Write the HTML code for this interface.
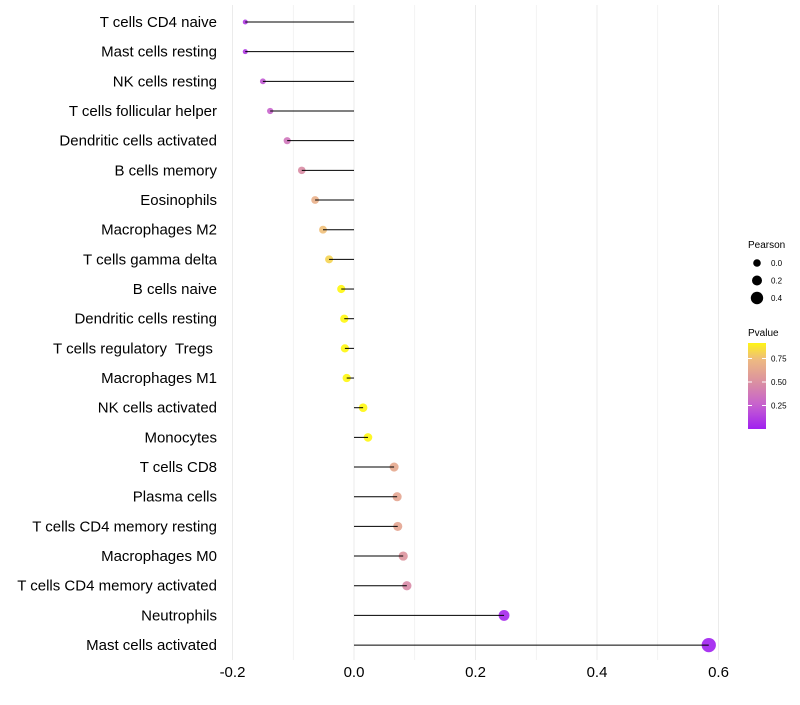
<!DOCTYPE html>
<html><head><meta charset="utf-8"><style>
body{margin:0;background:#fff;font-family:"Liberation Sans",sans-serif}
text{white-space:pre}
</style></head><body>
<svg id="c" width="800" height="700" xmlns="http://www.w3.org/2000/svg"></svg>
<script>
const categories=["T cells CD4 naive","Mast cells resting","NK cells resting","T cells follicular helper","Dendritic cells activated","B cells memory","Eosinophils","Macrophages M2","T cells gamma delta","B cells naive","Dendritic cells resting","T cells regulatory  Tregs ","Macrophages M1","NK cells activated","Monocytes","T cells CD8","Plasma cells","T cells CD4 memory resting","Macrophages M0","T cells CD4 memory activated","Neutrophils","Mast cells activated"];
const pearson=[-0.179,-0.179,-0.15,-0.138,-0.11,-0.086,-0.064,-0.051,-0.041,-0.021,-0.016,-0.015,-0.012,0.015,0.023,0.066,0.071,0.072,0.081,0.087,0.247,0.584];
const pvalue=[0.1,0.1,0.22,0.27,0.36,0.48,0.68,0.76,0.82,0.93,0.93,0.93,0.93,0.93,0.93,0.64,0.62,0.62,0.52,0.47,0.03,0.0];
const xTicks=[-0.2,0,0.2,0.4,0.6];
const xTickLabels=["-0.2","0.0","0.2","0.4","0.6"];
const sizeLegend=[0.0,0.2,0.4];
const pLegend=[0.25,0.5,0.75];
const NS="http://www.w3.org/2000/svg";
const svg=document.getElementById('c');
const x=v=>354+v*607.5;
const y=i=>22+i*29.67;
const r=v=>Math.max(2,4.2+v*5+(v<-0.1?(v+0.1)*10:0));
const stops=[[0,[160,32,240]],[0.25,[198,96,208]],[0.5,[219,144,160]],[0.75,[238,188,128]],[0.915,[255,245,20]],[1,[255,255,0]]];
function col(p){for(let k=1;k<stops.length;k++){if(p<=stops[k][0]){const a=stops[k-1],b=stops[k];const t=(p-a[0])/(b[0]-a[0]);return 'rgb('+a[1].map((c,j)=>Math.round(c+(b[1][j]-c)*t)).join(',')+')';}}return 'rgb(255,255,0)';}
function el(t,a,p){const e=document.createElementNS(NS,t);for(const k in a)e.setAttribute(k,a[k]);(p||svg).appendChild(e);return e;}
for(let v=-0.2;v<=0.65;v+=0.1){const g=el('line',{x1:x(v),x2:x(v),y1:5,y2:660,stroke:'#ebebeb','stroke-width':Math.abs(Math.round(v*10))%2===0?1:0.6});

}
xTicks.forEach((v,i)=>{const t=el('text',{x:x(v),y:677,'text-anchor':'middle','font-size':15,fill:'#000'});t.textContent=xTickLabels[i];

});
categories.forEach((c,i)=>{
const t=el('text',{x:217,y:y(i)+5,'text-anchor':'end','font-size':15,fill:'#000'});t.textContent=c;


const d=el('circle',{cx:x(pearson[i]),cy:y(i),r:r(pearson[i]),fill:col(pvalue[i]),'fill-opacity':0.9});


const l=el('line',{x1:x(0),x2:x(pearson[i]),y1:y(i),y2:y(i),stroke:'#000','stroke-width':1});


});
const lt=el('text',{x:748,y:248,'font-size':10});lt.textContent='Pearson';


sizeLegend.forEach((v,i)=>{const cy=263+i*17.5;
const d=el('circle',{cx:757,cy:cy,r:3.8+v*6,fill:'#000'});


const t=el('text',{x:771,y:cy+3,'font-size':8});t.textContent=v.toFixed(1);

});
const pt=el('text',{x:748,y:336,'font-size':10});pt.textContent='Pvalue';


const defs=el('defs',{});const lg=el('linearGradient',{id:'g',x1:0,y1:1,x2:0,y2:0},defs);
for(let k=0;k<=10;k++){const p=k/10*0.915;el('stop',{offset:k/10,'stop-color':col(p)},lg);}
const bar=el('rect',{x:748,y:343,width:18,height:86,fill:'url(#g)'});


pLegend.forEach(v=>{const yy=429-v*94;
el('line',{x1:748,x2:752,y1:yy,y2:yy,stroke:'#fff'});el('line',{x1:762,x2:766,y1:yy,y2:yy,stroke:'#fff'});
const t=el('text',{x:771,y:yy+3,'font-size':8});t.textContent=v.toFixed(2);

});
</script>
</body></html>
